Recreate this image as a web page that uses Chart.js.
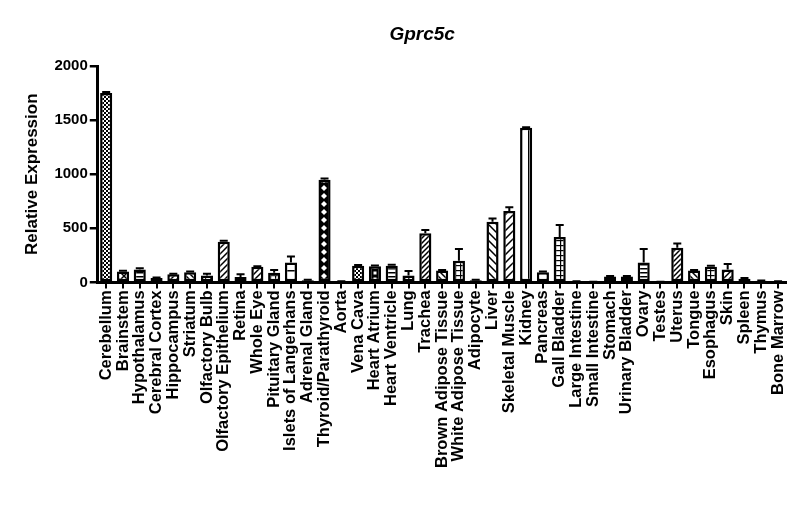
<!DOCTYPE html>
<html>
<head>
<meta charset="utf-8">
<script src="https://cdn.jsdelivr.net/npm/chart.js@4"></script>
<style>
  html, body { margin: 0; padding: 0; background: #fff; }
  #wrap { width: 800px; height: 518px; }
</style>
</head>
<body>
<div id="wrap"><canvas id="expr-chart"></canvas></div>
<script>
const tissues = [
  "Cerebellum", "Brainstem", "Hypothalamus", "Cerebral Cortex", "Hippocampus",
  "Striatum", "Olfactory Bulb", "Olfactory Epithelium", "Retina", "Whole Eye",
  "Pituitary Gland", "Islets of Langerhans", "Adrenal Gland", "Thyroid/Parathyroid",
  "Aorta", "Vena Cava", "Heart Atrium", "Heart Ventricle", "Lung", "Trachea",
  "Brown Adipose Tissue", "White Adipose Tissue", "Adipocyte", "Liver",
  "Skeletal Muscle", "Kidney", "Pancreas", "Gall Bladder", "Large Intestine",
  "Small Intestine", "Stomach", "Urinary Bladder", "Ovary", "Testes", "Uterus",
  "Tongue", "Esophagus", "Skin", "Spleen", "Thymus", "Bone Marrow",
];

const expression = [
  1750, 100, 120, 40, 75, 95, 65, 375, 50, 145,
  90, 185, 20, 950, 10, 155, 150, 155, 65, 455,
  110, 200, 20, 560, 660, 1430, 95, 420, 8, 5,
  55, 55, 185, 5, 320, 110, 145, 120, 35, 15, 8,
];

const sem = [
  10, 8, 12, 5, 6, 6, 15, 10, 25, 5,
  25, 55, 4, 10, 2, 6, 6, 8, 40, 30,
  6, 110, 4, 30, 35, 5, 6, 110, 2, 2,
  5, 5, 125, 2, 40, 5, 10, 50, 5, 3, 2,
];

const yTicks = [0, 500, 1000, 1500, 2000];

// fill pattern of each bar (GraphPad style)
const fills = [
  "checkFine", "xcross", "hlines", "hlines", "diagR", "diagL", "grid", "diagR", "hlines", "diagR",
  "grid", "hwide", "blank", "diamond", "blank", "checkFine", "squares", "hlines", "vlines", "diagRd",
  "diagL", "grid", "blank", "diagLw", "diagRw", "vwide", "blank", "grid", "blank", "blank",
  "hlines", "hlines", "hlines", "blank", "diagRd", "diagL", "grid", "diagR", "blank", "blank", "blank",
];

const FONT = "'Liberation Sans', Arial, Helvetica, sans-serif";

function makePattern(type) {
  const c = document.createElement("canvas");
  const s = { checkFine: 4, diamond: 8, squares: 6, xcross: 8, diagR: 6, diagL: 6,
    diagRd: 5, diagRw: 8, diagLw: 8, hlines: 4, hwide: 10, vlines: 4, vwide: 12, grid: 5, blank: 4 }[type];
  c.width = s;
  c.height = s;
  const g = c.getContext("2d");
  g.fillStyle = "#fff";
  g.fillRect(0, 0, s, s);
  g.fillStyle = "#000";
  g.strokeStyle = "#000";
  g.lineWidth = 1.5;
  if (type === "checkFine") {
    g.fillRect(0, 0, 2, 2);
    g.fillRect(2, 2, 2, 2);
  } else if (type === "diamond") {
    g.fillRect(0, 0, s, s);
    g.fillStyle = "#fff";
    g.beginPath();
    g.moveTo(4, 1); g.lineTo(7, 4); g.lineTo(4, 7); g.lineTo(1, 4);
    g.closePath();
    g.fill();
  } else if (type === "squares") {
    g.fillRect(0, 0, s, s);
    g.fillStyle = "#fff";
    g.fillRect(1.5, 1.5, 3, 3);
  } else if (type === "xcross") {
    g.beginPath();
    g.moveTo(0, 0); g.lineTo(s, s);
    g.moveTo(s, 0); g.lineTo(0, s);
    g.stroke();
  } else if (type.startsWith("diagR")) {
    g.beginPath();
    g.moveTo(0, s); g.lineTo(s, 0);
    g.moveTo(-1, 1); g.lineTo(1, -1);
    g.moveTo(s - 1, s + 1); g.lineTo(s + 1, s - 1);
    g.stroke();
  } else if (type.startsWith("diagL")) {
    g.beginPath();
    g.moveTo(0, 0); g.lineTo(s, s);
    g.moveTo(s - 1, -1); g.lineTo(s + 1, 1);
    g.moveTo(-1, s - 1); g.lineTo(1, s + 1);
    g.stroke();
  } else if (type === "hlines" || type === "hwide") {
    g.fillRect(0, 0, s, 1.5);
  } else if (type === "vlines" || type === "vwide") {
    g.fillRect(0, 0, 1.5, s);
  } else if (type === "grid") {
    g.fillRect(0, 0, s, 1.2);
    g.fillRect(0, 0, 1.2, s);
  }
  return g.createPattern(c, "repeat");
}

const errorBars = {
  id: "errorBars",
  afterDatasetsDraw(chart) {
    const { ctx, scales } = chart;
    const meta = chart.getDatasetMeta(0);
    ctx.save();
    ctx.strokeStyle = "#000";
    ctx.lineWidth = 2;
    meta.data.forEach((bar, i) => {
      const top = scales.y.getPixelForValue(expression[i]);
      const hi = scales.y.getPixelForValue(expression[i] + sem[i]);
      ctx.beginPath();
      ctx.moveTo(bar.x, top);
      ctx.lineTo(bar.x, hi);
      ctx.moveTo(bar.x - 4, hi);
      ctx.lineTo(bar.x + 4, hi);
      ctx.stroke();
    });
    ctx.restore();
  },
};

// gene name above the plot, a bit left of the plot centre as in the original
const geneTitle = {
  id: "geneTitle",
  afterDraw(chart) {
    const { ctx, chartArea } = chart;
    ctx.save();
    ctx.fillStyle = "#000";
    ctx.font = "italic bold 19px " + FONT;
    ctx.textAlign = "center";
    ctx.textBaseline = "middle";
    ctx.fillText("Gprc5c", (chartArea.left + chartArea.right) / 2 - 20, chartArea.top - 31);
    ctx.restore();
  },
};

const canvaEl = document.getElementById("expr-chart");

new Chart(canvaEl, {
  type: "bar",
  data: {
    labels: tissues,
    datasets: [
      {
        label: "Gprc5c",
        data: expression,
        backgroundColor: fills.map(makePattern),
        borderColor: "#000",
        borderWidth: 2.5,
        borderSkipped: false,
        barPercentage: 0.72,
        categoryPercentage: 1,
      },
    ],
  },
  options: {
    responsive: true,
    maintainAspectRatio: false,
    animation: false,
    devicePixelRatio: 1,
    layout: { padding: { left: 22, right: 10, top: 66, bottom: 48 } },
    plugins: {
      legend: { display: false },
      tooltip: { enabled: false },
      title: { display: false },
    },
    scales: {
      x: {
        offset: true,
        grid: {
          offset: false,
          drawOnChartArea: false,
          color: "#000",
          lineWidth: 2,
          tickLength: 6,
        },
        border: { color: "#000", width: 3 },
        ticks: {
          color: "#000",
          autoSkip: false,
          minRotation: 90,
          maxRotation: 90,
          padding: 2,
          font: { family: FONT, size: 16.5, weight: "bold" },
        },
      },
      y: {
        min: 0,
        max: 2000,
        afterBuildTicks(axis) {
          axis.ticks = yTicks.map((v) => ({ value: v }));
        },
        grid: {
          drawOnChartArea: false,
          color: "#000",
          lineWidth: 2.5,
          tickLength: 8,
        },
        border: { color: "#000", width: 3 },
        ticks: {
          color: "#000",
          padding: 2,
          callback: (v) => String(v),
          font: { family: FONT, size: 15, weight: "bold" },
        },
        title: {
          display: true,
          text: "Relative Expression",
          color: "#000",
          font: { family: FONT, size: 17, weight: "bold" },
          padding: { top: 0, bottom: 10 },
        },
      },
    },
  },
  plugins: [errorBars, geneTitle],
});
</script>
</body>
</html>
